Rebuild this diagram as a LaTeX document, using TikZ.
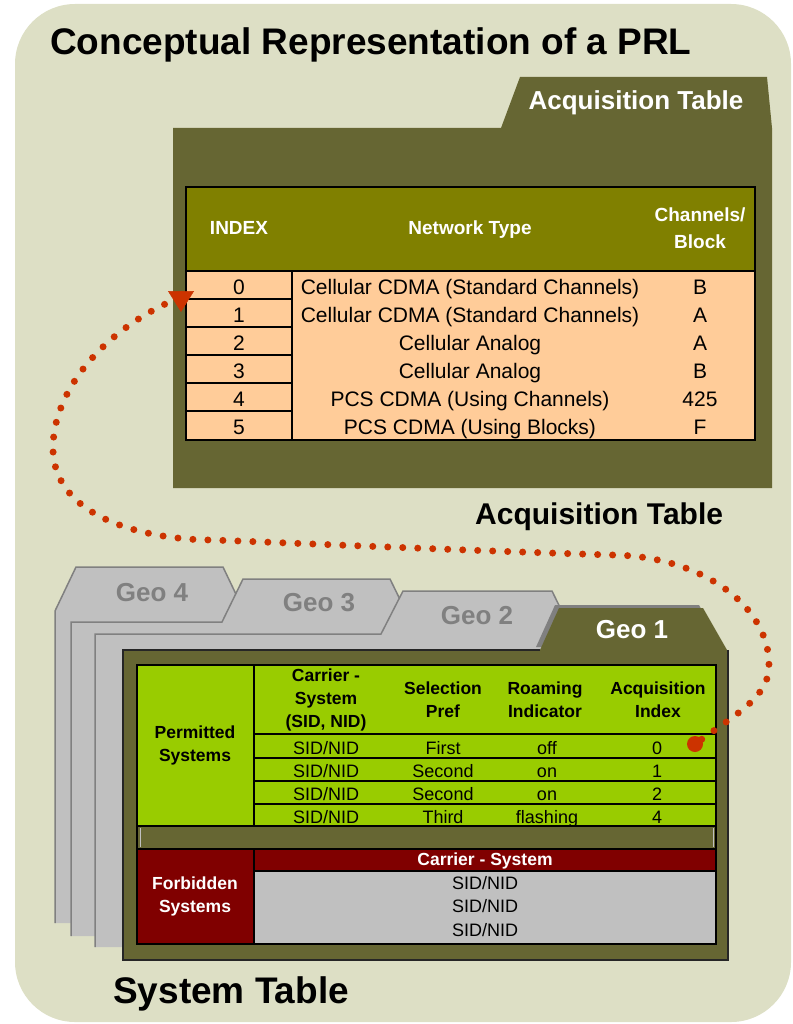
\documentclass[tikz,border=0pt]{standalone}
\usepackage{fontspec}
\setmainfont{Liberation Sans}
\usetikzlibrary{arrows.meta}

\definecolor{paper}{RGB}{221,223,197}
\definecolor{folder}{RGB}{102,102,51}
\definecolor{olivehead}{RGB}{128,128,0}
\definecolor{peach}{RGB}{255,204,153}
\definecolor{lime}{RGB}{153,204,0}
\definecolor{maroon}{RGB}{128,0,0}
\definecolor{silver}{RGB}{192,192,192}
\definecolor{tabgray}{RGB}{128,128,128}
\definecolor{dotred}{RGB}{204,51,0}

\tikzstyle{every node}=[inner sep=0pt]
\tikzstyle{heading}=[font=\bfseries\fontsize{37}{40}\selectfont, anchor=base west]
\tikzstyle{tabname}=[font=\bfseries\fontsize{26}{30}\selectfont]
\tikzstyle{acqhead}=[font=\bfseries\fontsize{19}{27}\selectfont, text=white, align=center]
\tikzstyle{acqcell}=[font=\fontsize{21}{24}\selectfont, anchor=base]
\tikzstyle{syshead}=[font=\bfseries\fontsize{17.5}{23}\selectfont, align=center]
\tikzstyle{syscell}=[font=\fontsize{18}{23}\selectfont, anchor=base]
\tikzstyle{tabline}=[line width=2.5pt]
\tikzstyle{geofolder}=[fill=silver, draw=tabgray, line width=1.5pt]
\tikzstyle{dotpath}=[dotred, line width=7pt, line cap=round, dash pattern=on 0pt off 15pt]

\begin{document}
\begin{tikzpicture}[x=1pt, y=-1pt]
  \useasboundingbox (0,0) rectangle (792,1024);
  \fill[paper, rounded corners=60pt] (15,4) rectangle (791,1022);

  \node[heading] (title) at (50,55) {Conceptual Representation of a PRL};

  % acquisition table
  \fill[folder] (173,128) -- (501,128) -- (520,77) -- (767,77) -- (772,128)
    -- (772,488) -- (173,488) -- cycle;
  \node[tabname, text=white] (acqtab) at (636,103) {Acquisition Table};

  \fill[olivehead] (186,187) rectangle (755,271);
  \fill[peach] (186,271) rectangle (755,440);
  \draw[tabline] (186,187) rectangle (755,440);
  \draw[tabline] (186,271) -- (755,271);
  \draw[tabline] (292,271) -- (292,440);
  \foreach \y in {299,327,355,383,411}
    \draw[tabline] (186,\y) -- (292,\y);

  \node[acqhead, anchor=base] (hidx) at (239,235) {INDEX};
  \node[acqhead, anchor=base] (hnet) at (470,235) {Network Type};
  \node[acqhead] (hblk) at (700,228) {Channels/\\Block};

  \foreach \i/\net/\blk in {0/Cellular CDMA (Standard Channels)/B,
      1/Cellular CDMA (Standard Channels)/A, 2/Cellular Analog/A,
      3/Cellular Analog/B, 4/PCS CDMA (Using Channels)/425,
      5/PCS CDMA (Using Blocks)/F} {
    \node[acqcell] (idx\i) at (239,294+28*\i) {\i};
    \node[acqcell] (net\i) at (470,294+28*\i) {\net};
    \node[acqcell] (blk\i) at (700,294+28*\i) {\blk};
  }

  \node[heading, font=\bfseries\fontsize{30}{34}\selectfont] (acqlabel) at (475,524) {Acquisition Table};

  % system table folders
  \filldraw[geofolder] (55,923) -- (55,611) -- (76,567) -- (223,567) -- (244,611)
    -- (700,611) -- (700,923);
  \node[tabname, text=tabgray] (geo4) at (152,593) {Geo 4};
  \filldraw[geofolder] (71,936) -- (71,622) -- (222,622) -- (243,579) -- (390,579)
    -- (411,622) -- (705,622) -- (705,936);
  \node[tabname, text=tabgray] (geo3) at (319,603) {Geo 3};
  \filldraw[geofolder] (95,947) -- (95,634) -- (381,634) -- (403,591) -- (552,591)
    -- (573,634) -- (710,634) -- (710,947);
  \node[tabname, text=tabgray] (geo2) at (477,616) {Geo 2};

  \fill[tabgray] (536,647) -- (555,605) -- (699,605) -- (723,647) -- cycle;
  \fill[folder] (123,960) -- (123,650) -- (540,650) -- (559,608) -- (703,608)
    -- (727,650) -- (727,960) -- cycle;
  \draw[line width=1.5pt, black!85] (540,650) -- (123,650) -- (123,960) -- (728,960) -- (728,650);
  \node[tabname, text=white] (geo1) at (632,630) {Geo 1};

  \fill[lime] (137,665) rectangle (716,826);
  \fill[folder] (137,826) rectangle (716,849);
  \draw[silver, line width=1pt] (140,828) -- (140,847);
  \draw[silver, line width=1pt] (713,828) -- (713,847);
  \fill[maroon] (137,849) rectangle (716,871);
  \fill[maroon] (137,871) rectangle (254,944);
  \fill[silver] (254,871) rectangle (716,944);

  \draw[tabline] (137,665) rectangle (716,944);
  \draw[tabline] (137,826) -- (716,826);
  \draw[tabline] (137,849) -- (716,849);
  \draw[tabline] (254,665) -- (254,826);
  \draw[tabline] (254,849) -- (254,944);
  \draw[tabline] (254,871) -- (716,871);
  \foreach \y in {734,758,781,804}
    \draw[tabline] (254,\y) -- (716,\y);

  \node[syshead] (perm) at (195,745) {Permitted\\Systems};
  \node[syshead] (hcar) at (326,700) {Carrier -\\System\\(SID, NID)};
  \node[syshead] (hsel) at (443,700) {Selection\\Pref};
  \node[syshead] (hroam) at (545,700) {Roaming\\Indicator};
  \node[syshead] (hacq) at (658,700) {Acquisition\\Index};

  \foreach \i/\pref/\roam/\acq in {0/First/off/0, 1/Second/on/1,
      2/Second/on/2, 3/Third/flashing/4} {
    \node[syscell] (sid\i) at (326,754+23*\i) {SID/NID};
    \node[syscell] (pref\i) at (443,754+23*\i) {\pref};
    \node[syscell] (roam\i) at (547,754+23*\i) {\roam};
    \node[syscell] (acq\i) at (657,754+23*\i) {\acq};
  }

  \node[syshead, text=white] (forb) at (195,896) {Forbidden\\Systems};
  \node[syshead, text=white, anchor=base] (hforb) at (485,865) {Carrier - System};
  \foreach \i in {0,1,2}
    \node[syscell] (fsid\i) at (485,889+23.5*\i) {SID/NID};

  \node[heading] (systab) at (113,1003) {System Table};

  % link from acquisition index to the table
  \node[circle, fill=dotred, minimum size=16pt] (gdot) at (695,744) {};
  \coordinate (arrbase) at (181,291);
  \coordinate (arrtip) at (181,312);
  \draw[dotpath] (gdot) .. controls (740,712) and (769,695) .. (769,666)
    .. controls (770,605) and (700,556) .. (613,555)
    .. controls (480,551) and (340,545) .. (213,540)
    .. controls (150,540) and (55,520) .. (53,450)
    .. controls (52,390) and (105,330) .. (174,300);
  \draw[dotred, line width=0.5pt, -{Triangle[length=21pt, width=26pt]}] (arrbase) -- (arrtip);
\end{tikzpicture}
\end{document}
